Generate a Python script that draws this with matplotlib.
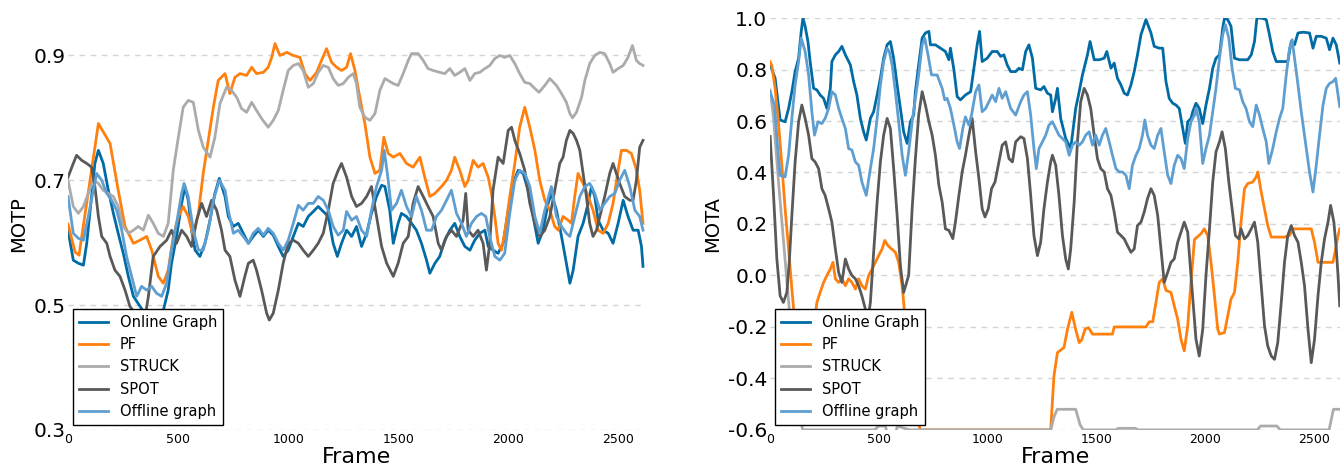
#!/usr/bin/env python3
"""
MOTP / MOTA per frame for the tracking methods (two panels side by side)
"""

import matplotlib
matplotlib.use("Agg")
import matplotlib.pyplot as plt

# ---------------------------------------------------------------------------
# data: (frame, value) pairs per method
# ---------------------------------------------------------------------------
methods = ["Online Graph", "PF", "STRUCK", "SPOT", "Offline graph"]
colors = ["#006BA4", "#FF800E", "#ABABAB", "#595959", "#5F9ED1"]

frame_ticks = [0, 500, 1000, 1500, 2000, 2500]
motp_ticks = [0.3, 0.5, 0.7, 0.9]
mota_ticks = [-0.6, -0.4, -0.2, 0.0, 0.2, 0.4, 0.6, 0.8, 1.0]

motp_online = [
    (0, .62), (24, .572), (47, .567), (70, .564), (85, .599), (107, .674), (122, .727),
    (138, .748), (160, .727), (183, .684), (206, .647), (228, .615), (251, .583),
    (274, .546), (297, .514), (327, .498), (360, .48), (400, .47), (425, .48),
    (455, .524), (470, .567), (493, .610), (516, .663), (531, .690), (546, .668),
    (561, .620), (577, .588), (599, .578), (622, .599), (645, .636), (667, .679),
    (687, .703), (713, .674), (728, .642), (751, .626), (773, .631), (796, .615),
    (819, .599), (841, .610), (864, .620), (887, .610), (909, .620), (932, .612),
    (955, .594), (977, .578), (1000, .588), (1023, .610), (1046, .631), (1068, .626),
    (1091, .642), (1114, .650), (1136, .658), (1159, .650), (1182, .642), (1204, .599),
    (1223, .578), (1242, .599), (1265, .620), (1288, .610), (1310, .626), (1333, .594),
    (1356, .615), (1378, .647), (1401, .674), (1424, .692), (1439, .690), (1461, .652),
    (1477, .599), (1499, .631), (1514, .647), (1537, .642), (1560, .631), (1582, .620),
    (1605, .599), (1628, .572), (1643, .551), (1666, .567), (1688, .578), (1711, .604),
    (1734, .620), (1756, .631), (1779, .610), (1802, .594), (1825, .588), (1847, .604),
    (1870, .615), (1893, .620), (1908, .594), (1930, .588), (1953, .583), (1976, .599),
    (1999, .652), (2021, .695), (2044, .716), (2067, .711), (2089, .684), (2112, .642),
    (2135, .599), (2157, .620), (2180, .663), (2195, .679), (2218, .652), (2241, .610),
    (2263, .567), (2279, .535), (2294, .556), (2316, .610), (2339, .631), (2362, .663),
    (2377, .690), (2392, .674), (2407, .636), (2430, .620), (2453, .615), (2475, .599),
    (2498, .631), (2521, .668), (2543, .642), (2566, .620), (2589, .620), (2604, .594),
    (2611, .562),
]

motp_pf = [
    (0, .63), (32, .585), (50, .58), (138, .791), (191, .759), (228, .684), (259, .626),
    (297, .599), (327, .604), (357, .610), (380, .588), (410, .546), (433, .535),
    (455, .556), (478, .610), (501, .642), (523, .658), (546, .642), (569, .610),
    (592, .647), (614, .711), (637, .764), (660, .817), (682, .860), (713, .871),
    (735, .839), (758, .865), (781, .871), (811, .868), (834, .881), (856, .871),
    (887, .873), (909, .881), (925, .897), (940, .919), (962, .900), (993, .905),
    (1023, .900), (1053, .897), (1076, .871), (1099, .860), (1129, .873), (1151, .892),
    (1174, .911), (1197, .889), (1220, .881), (1242, .876), (1265, .881), (1283, .903),
    (1303, .876), (1325, .833), (1348, .791), (1371, .737), (1394, .711), (1416, .716),
    (1434, .769), (1454, .743), (1477, .737), (1507, .743), (1537, .727), (1567, .721),
    (1598, .737), (1620, .705), (1643, .674), (1666, .679), (1696, .690), (1719, .700),
    (1741, .716), (1756, .737), (1779, .716), (1802, .690), (1817, .700), (1840, .732),
    (1862, .721), (1885, .727), (1908, .705), (1923, .679), (1938, .642), (1953, .599),
    (1968, .588), (1983, .615), (2006, .674), (2029, .727), (2051, .785), (2074, .817),
    (2097, .785), (2120, .748), (2142, .700), (2165, .668), (2188, .652), (2210, .626),
    (2226, .620), (2248, .642), (2271, .636), (2286, .631), (2301, .674), (2316, .711),
    (2339, .695), (2362, .674), (2384, .652), (2407, .620), (2430, .615), (2453, .631),
    (2475, .663), (2498, .716), (2513, .748), (2536, .748), (2558, .743), (2578, .721),
    (2596, .684), (2611, .631),
]

motp_struck = [
    (0, .70), (24, .658), (47, .647), (70, .658), (92, .679), (115, .700), (138, .695),
    (160, .684), (183, .679), (206, .674), (228, .658), (251, .626), (274, .615),
    (297, .620), (319, .626), (342, .620), (365, .644), (387, .631), (410, .615),
    (433, .610), (455, .631), (478, .716), (501, .769), (523, .817), (546, .828),
    (569, .825), (592, .780), (614, .753), (645, .737), (667, .769), (690, .823),
    (720, .849), (743, .844), (766, .833), (788, .815), (811, .809), (834, .825),
    (856, .812), (879, .799), (909, .785), (932, .796), (955, .812), (977, .844),
    (1000, .876), (1023, .884), (1046, .887), (1068, .876), (1091, .849), (1114, .855),
    (1136, .873), (1159, .884), (1182, .881), (1204, .863), (1227, .852), (1250, .855),
    (1273, .865), (1295, .871), (1310, .855), (1325, .817), (1348, .801), (1371, .796),
    (1394, .807), (1416, .844), (1439, .863), (1477, .855), (1499, .852), (1522, .871),
    (1545, .892), (1560, .903), (1590, .903), (1613, .892), (1635, .879), (1658, .876),
    (1688, .873), (1711, .871), (1734, .879), (1756, .868), (1779, .873), (1802, .879),
    (1825, .860), (1847, .871), (1870, .873), (1893, .879), (1915, .884), (1938, .895),
    (1961, .900), (1983, .897), (2006, .900), (2029, .887), (2051, .871), (2074, .857),
    (2097, .855), (2120, .847), (2139, .841), (2165, .852), (2188, .863), (2218, .852),
    (2241, .839), (2263, .825), (2279, .807), (2291, .800), (2309, .809), (2332, .833),
    (2347, .860), (2369, .887), (2392, .900), (2415, .905), (2437, .903), (2460, .887),
    (2475, .873), (2498, .879), (2521, .884), (2543, .897), (2563, .916), (2581, .892),
    (2596, .887), (2611, .884),
]

motp_spot = [
    (0, .705), (24, .727), (39, .740), (62, .732), (85, .727), (107, .721), (122, .690),
    (138, .642), (153, .610), (176, .599), (191, .578), (213, .556), (236, .546),
    (259, .524), (281, .498), (304, .487), (327, .471), (345, .47), (365, .514),
    (387, .578), (418, .594), (448, .604), (470, .620), (493, .599), (516, .620),
    (539, .610), (561, .594), (584, .636), (607, .663), (629, .642), (652, .668),
    (675, .652), (697, .620), (713, .588), (735, .578), (758, .540), (781, .514),
    (803, .546), (819, .567), (841, .572), (856, .556), (879, .524), (902, .487),
    (914, .476), (932, .487), (955, .524), (977, .567), (1000, .599), (1023, .604),
    (1046, .599), (1068, .588), (1091, .578), (1114, .588), (1136, .599), (1159, .615),
    (1182, .652), (1204, .695), (1227, .716), (1242, .727), (1265, .705), (1288, .674),
    (1310, .658), (1333, .663), (1356, .674), (1378, .690), (1401, .642), (1424, .594),
    (1447, .567), (1477, .546), (1499, .567), (1522, .599), (1545, .610), (1567, .663),
    (1590, .690), (1613, .674), (1635, .658), (1658, .642), (1681, .599), (1696, .588),
    (1719, .610), (1741, .620), (1764, .610), (1794, .636), (1806, .679), (1817, .620),
    (1840, .610), (1862, .620), (1885, .599), (1900, .556), (1915, .599), (1930, .684),
    (1953, .737), (1976, .727), (1999, .780), (2014, .785), (2029, .764), (2051, .743),
    (2074, .716), (2097, .663), (2120, .631), (2142, .610), (2165, .620), (2188, .642),
    (2210, .684), (2233, .727), (2248, .737), (2263, .764), (2279, .780), (2294, .775),
    (2309, .764), (2324, .748), (2339, .711), (2354, .674), (2369, .631), (2384, .610),
    (2400, .620), (2415, .642), (2437, .674), (2460, .711), (2475, .727), (2490, .711),
    (2505, .695), (2528, .674), (2551, .668), (2566, .668), (2581, .700), (2596, .753),
    (2611, .764),
]

motp_offline = [
    (0, .674), (24, .615), (47, .607), (70, .604), (92, .642), (115, .684), (130, .711),
    (153, .700), (176, .679), (198, .668), (221, .652), (244, .620), (266, .578),
    (289, .546), (312, .514), (334, .530), (357, .524), (380, .530), (402, .519),
    (425, .514), (448, .535), (470, .588), (493, .631), (516, .679), (527, .695),
    (546, .674), (569, .620), (592, .588), (614, .588), (637, .620), (660, .668),
    (687, .700), (713, .684), (728, .652), (751, .615), (773, .620), (796, .610),
    (819, .599), (841, .615), (864, .623), (887, .612), (909, .623), (932, .615),
    (955, .599), (977, .588), (1000, .604), (1023, .631), (1046, .660), (1068, .652),
    (1091, .663), (1114, .663), (1136, .674), (1159, .668), (1182, .652), (1204, .626),
    (1227, .612), (1250, .620), (1265, .650), (1288, .636), (1310, .642), (1333, .620),
    (1356, .610), (1378, .652), (1401, .690), (1424, .716), (1436, .748), (1454, .700),
    (1469, .652), (1492, .663), (1514, .684), (1537, .658), (1560, .642), (1582, .674),
    (1605, .652), (1628, .620), (1651, .620), (1673, .642), (1696, .652), (1719, .668),
    (1741, .684), (1764, .647), (1787, .631), (1809, .610), (1832, .631), (1855, .642),
    (1877, .647), (1897, .642), (1915, .610), (1938, .578), (1961, .572), (1983, .583),
    (2006, .647), (2029, .700), (2051, .716), (2074, .711), (2097, .690), (2120, .642),
    (2142, .615), (2165, .652), (2195, .690), (2218, .642), (2241, .626), (2263, .615),
    (2279, .610), (2301, .642), (2324, .674), (2347, .690), (2369, .695), (2392, .679),
    (2415, .652), (2437, .663), (2460, .674), (2483, .679), (2505, .700), (2528, .716),
    (2551, .690), (2574, .652), (2596, .642), (2611, .620),
]

mota_online = [
    (0, .82), (23, .766), (38, .662), (46, .604), (69, .597), (85, .649), (100, .714),
    (115, .792), (131, .844), (143, .948), (151, 1.0), (161, .968), (174, .909),
    (184, .831), (200, .727), (215, .721), (230, .701), (246, .688), (261, .649),
    (277, .727), (284, .831), (300, .857), (315, .870), (330, .890), (346, .857),
    (369, .818), (384, .753), (399, .701), (415, .610), (430, .558), (442, .526),
    (461, .610), (476, .636), (492, .701), (507, .766), (522, .844), (538, .896),
    (553, .909), (568, .844), (584, .740), (599, .649), (614, .558), (630, .513),
    (645, .597), (660, .623), (668, .714), (683, .818), (699, .922), (714, .942),
    (730, .948), (737, .896), (760, .896), (783, .883), (806, .870), (822, .838),
    (829, .883), (845, .799), (860, .695), (875, .682), (898, .701), (922, .714),
    (937, .805), (952, .896), (963, .948), (975, .831), (998, .844), (1021, .870),
    (1044, .870), (1060, .851), (1075, .857), (1090, .818), (1106, .792), (1129, .792),
    (1144, .805), (1160, .799), (1175, .870), (1190, .896), (1206, .844), (1221, .727),
    (1244, .721), (1259, .734), (1275, .708), (1290, .701), (1298, .636), (1313, .688),
    (1321, .727), (1336, .610), (1359, .532), (1382, .493), (1405, .649), (1421, .714),
    (1436, .779), (1459, .857), (1471, .909), (1490, .838), (1513, .838), (1536, .844),
    (1548, .870), (1567, .805), (1582, .825), (1597, .766), (1613, .740), (1628, .708),
    (1643, .701), (1659, .740), (1674, .792), (1689, .857), (1705, .935), (1728, .994),
    (1751, .942), (1766, .890), (1789, .883), (1805, .883), (1820, .753), (1835, .688),
    (1851, .669), (1866, .662), (1881, .649), (1897, .571), (1909, .513), (1920, .597),
    (1935, .610), (1943, .636), (1958, .669), (1973, .649), (1989, .590), (2004, .662),
    (2020, .727), (2035, .805), (2050, .844), (2066, .857), (2081, .961), (2089, 1.0),
    (2104, .994), (2119, .968), (2135, .844), (2158, .838), (2181, .838), (2196, .838),
    (2212, .857), (2227, .909), (2238, 1.0), (2258, 1.0), (2281, .994), (2296, .935),
    (2311, .870), (2327, .831), (2357, .831), (2380, .831), (2396, .909), (2411, .896),
    (2427, .942), (2450, .945), (2480, .942), (2496, .883), (2511, .929), (2534, .929),
    (2557, .922), (2572, .877), (2588, .922), (2603, .896), (2619, .825),
]

mota_pf = [
    (0, .83), (8, .815), (23, .727), (38, .597), (54, .428), (69, .259), (85, .103),
    (100, -.053), (115, -.196), (135, -.42), (160, -.55), (185, -.42), (200, -.21),
    (215, -.105), (230, -.066), (246, -.027), (261, 0.0), (277, .025), (289, .051),
    (300, -.013), (315, -.027), (330, -.013), (346, -.040), (361, -.013), (376, -.027),
    (392, -.053), (407, -.013), (422, -.040), (438, -.053), (453, 0.0), (469, .025),
    (484, .051), (499, .077), (515, .103), (527, .136), (542, .116), (558, .103),
    (576, .090), (591, .051), (607, -.040), (622, -.18), (650, -.45), (690, -.6),
    (1290, -.6), (1305, -.39), (1321, -.30), (1336, -.29), (1351, -.28), (1367, -.21),
    (1387, -.143), (1405, -.21), (1421, -.261), (1433, -.25), (1448, -.209),
    (1464, -.203), (1482, -.228), (1574, -.228), (1582, -.2), (1728, -.2), (1743, -.18),
    (1759, -.18), (1774, -.105), (1789, -.027), (1805, -.013), (1820, -.058),
    (1843, -.066), (1858, -.118), (1874, -.17), (1889, -.248), (1904, -.293),
    (1920, -.196), (1935, -.027), (1951, .140), (1981, .162), (1996, .181), (2012, .155),
    (2027, .051), (2043, -.079), (2058, -.209), (2066, -.228), (2089, -.222),
    (2104, -.157), (2119, -.092), (2135, -.066), (2150, .051), (2165, .207), (2181, .337),
    (2196, .357), (2219, .363), (2235, .383), (2242, .402), (2258, .324), (2273, .259),
    (2288, .194), (2304, .149), (2365, .149), (2388, .155), (2404, .181), (2488, .181),
    (2503, .129), (2519, .051), (2588, .051), (2600, .103), (2611, .155), (2619, .181),
]

mota_struck = [
    (0, .72), (15, .62), (40, .35), (70, .05), (100, -.25), (125, -.5), (150, -.6),
    (480, -.6), (500, -.585), (530, -.585), (540, -.62), (575, -.62), (585, -.585),
    (640, -.6), (1290, -.6), (1305, -.55), (1320, -.52), (1405, -.52), (1425, -.58),
    (1440, -.6), (1590, -.6), (1600, -.594), (1680, -.594), (1690, -.6), (2240, -.6),
    (2255, -.585), (2330, -.585), (2345, -.6), (2570, -.6), (2590, -.52), (2619, -.52),
]

mota_spot = [
    (0, .54), (15, .324), (31, .064), (46, -.079), (61, -.105), (77, -.066), (88, .051),
    (100, .233), (115, .441), (131, .597), (146, .662), (161, .610), (177, .545),
    (192, .454), (207, .441), (223, .415), (238, .337), (253, .311), (269, .259),
    (284, .207), (300, .103), (315, .012), (330, -.027), (346, .064), (361, .025),
    (376, 0.0), (392, -.013), (407, -.040), (422, -.079), (438, -.131), (450, -.170),
    (461, -.105), (476, .090), (492, .285), (507, .441), (522, .545), (538, .610),
    (553, .571), (568, .415), (584, .233), (599, .038), (614, -.066), (637, 0.0),
    (653, .259), (668, .454), (683, .623), (699, .714), (714, .662), (730, .597),
    (745, .545), (760, .467), (776, .350), (791, .285), (806, .181), (822, .175),
    (840, .143), (852, .207), (868, .311), (883, .402), (898, .467), (914, .545),
    (929, .610), (945, .480), (960, .376), (975, .259), (988, .227), (1003, .259),
    (1018, .337), (1034, .363), (1049, .428), (1067, .506), (1083, .519), (1098, .454),
    (1114, .441), (1129, .519), (1152, .539), (1167, .532), (1183, .454), (1198, .311),
    (1213, .155), (1229, .077), (1244, .129), (1259, .259), (1275, .363), (1290, .441),
    (1298, .467), (1313, .428), (1328, .311), (1344, .155), (1359, .064), (1371, .025),
    (1382, .103), (1398, .285), (1413, .519), (1428, .675), (1444, .727), (1459, .701),
    (1474, .649), (1490, .545), (1505, .454), (1520, .415), (1536, .402), (1551, .337),
    (1567, .311), (1582, .246), (1597, .168), (1613, .155), (1628, .142), (1643, .116),
    (1659, .090), (1674, .103), (1689, .194), (1705, .207), (1720, .246), (1735, .298),
    (1751, .337), (1766, .311), (1782, .233), (1797, .103), (1812, -.027), (1828, .012),
    (1843, .051), (1858, .064), (1874, .129), (1889, .168), (1904, .207), (1920, .168),
    (1935, 0.0), (1958, -.248), (1973, -.313), (1989, -.209), (2004, 0.0), (2020, .181),
    (2035, .363), (2050, .480), (2066, .519), (2078, .558), (2093, .493), (2109, .363),
    (2124, .259), (2139, .155), (2155, .142), (2165, .181), (2181, .142), (2196, .155),
    (2212, .181), (2227, .207), (2242, .129), (2258, -.040), (2273, -.196),
    (2288, -.274), (2304, -.313), (2319, -.326), (2334, -.261), (2350, -.105),
    (2365, .051), (2380, .155), (2396, .194), (2411, .155), (2427, .129), (2442, .051),
    (2457, -.040), (2473, -.209), (2488, -.339), (2503, -.248), (2519, -.079),
    (2534, .051), (2549, .142), (2565, .207), (2577, .272), (2592, .207), (2603, .103),
    (2611, 0.0), (2619, -.118),
]

mota_offline = [
    (0, .714), (20, .662), (35, .493), (46, .389), (69, .383), (85, .467), (100, .610),
    (115, .740), (131, .831), (143, .922), (161, .870), (177, .779), (192, .636),
    (204, .545), (220, .597), (238, .590), (253, .610), (269, .649), (284, .714),
    (300, .701), (315, .649), (330, .610), (346, .571), (361, .493), (376, .487),
    (392, .441), (407, .428), (422, .363), (442, .311), (461, .415), (476, .493),
    (492, .610), (507, .740), (522, .831), (538, .883), (548, .870), (561, .818),
    (576, .714), (591, .597), (607, .467), (622, .389), (637, .480), (653, .597),
    (668, .688), (683, .779), (699, .896), (711, .922), (726, .857), (742, .779),
    (768, .779), (791, .727), (803, .682), (814, .688), (829, .649), (845, .584),
    (860, .519), (871, .493), (886, .571), (898, .616), (914, .584), (926, .623),
    (945, .714), (960, .740), (975, .636), (991, .649), (1006, .675), (1021, .701),
    (1037, .675), (1052, .727), (1067, .688), (1083, .714), (1106, .649), (1129, .623),
    (1152, .675), (1167, .701), (1183, .714), (1198, .623), (1213, .493), (1224, .415),
    (1236, .493), (1252, .519), (1267, .545), (1282, .584), (1298, .597), (1313, .571),
    (1328, .545), (1344, .532), (1359, .519), (1375, .467), (1390, .506), (1405, .519),
    (1421, .506), (1436, .519), (1451, .545), (1467, .558), (1482, .506), (1497, .545),
    (1513, .506), (1528, .545), (1543, .571), (1559, .519), (1574, .467), (1590, .415),
    (1605, .402), (1620, .402), (1636, .389), (1651, .337), (1666, .428), (1682, .467),
    (1697, .493), (1712, .545), (1723, .604), (1735, .545), (1751, .506), (1766, .493),
    (1782, .545), (1797, .571), (1812, .480), (1828, .389), (1843, .357), (1858, .428),
    (1874, .467), (1889, .454), (1904, .415), (1920, .532), (1935, .597), (1951, .623),
    (1958, .649), (1973, .597), (1989, .435), (2004, .493), (2020, .545), (2035, .636),
    (2050, .727), (2066, .844), (2081, .935), (2093, .974), (2109, .922), (2124, .805),
    (2139, .727), (2158, .721), (2173, .675), (2188, .649), (2204, .597), (2219, .578),
    (2235, .662), (2250, .623), (2265, .571), (2281, .519), (2293, .435), (2311, .493),
    (2327, .558), (2342, .610), (2357, .649), (2373, .779), (2388, .883), (2400, .916),
    (2411, .844), (2427, .740), (2442, .636), (2465, .493), (2480, .402), (2496, .324),
    (2511, .428), (2526, .545), (2542, .662), (2557, .727), (2572, .746), (2588, .753),
    (2600, .766), (2611, .701), (2619, .656),
]

motp_series = [motp_online, motp_pf, motp_struck, motp_spot, motp_offline]
mota_series = [mota_online, mota_pf, mota_struck, mota_spot, mota_offline]


def draw_panel(ax, series, ylabel, yticks, ylim):
    """One metric panel: lines, dashed horizontal grid, legend"""
    for pts, name, color in zip(series, methods, colors):
        frames = [p[0] for p in pts]
        values = [p[1] for p in pts]
        ax.plot(frames, values, color=color, lw=2.0, label=name)

    ax.set_xlim(0, 2620)
    ax.set_ylim(*ylim)
    ax.set_xticks(frame_ticks)
    ax.set_yticks(yticks)
    ax.set_yticklabels([f"{t:.1f}" for t in yticks])
    ax.tick_params(axis="x", labelsize=9, length=0, pad=2)
    ax.tick_params(axis="y", labelsize=14.5, length=0, pad=2)
    ax.yaxis.grid(True, linestyle=(0, (4, 4)), color="#d4d4d4", linewidth=1.0)
    ax.set_axisbelow(True)
    for side in ["top", "right", "bottom", "left"]:
        ax.spines[side].set_visible(False)
    ax.set_xlabel("Frame", fontsize=16, labelpad=1)
    ax.set_ylabel(ylabel, fontsize=14, labelpad=4)

    leg = ax.legend(loc="lower left", fontsize=10.5, fancybox=False, framealpha=1.0,
                    borderaxespad=0.35, handlelength=2.0)
    leg.get_frame().set_edgecolor("black")
    leg.get_frame().set_linewidth(1.0)


def main():
    plt.rcParams["axes.unicode_minus"] = False
    fig = plt.figure(figsize=(13.44, 4.75), dpi=100)
    ax1 = fig.add_axes([0.0506, 0.095, 0.4293, 0.867])
    ax2 = fig.add_axes([0.573, 0.095, 0.424, 0.867])

    draw_panel(ax1, motp_series, "MOTP", motp_ticks, (0.3, 0.96))
    draw_panel(ax2, mota_series, "MOTA", mota_ticks, (-0.6, 1.0))

    fig.savefig("out.png", dpi=100)
    plt.close(fig)


if __name__ == "__main__":
    main()
